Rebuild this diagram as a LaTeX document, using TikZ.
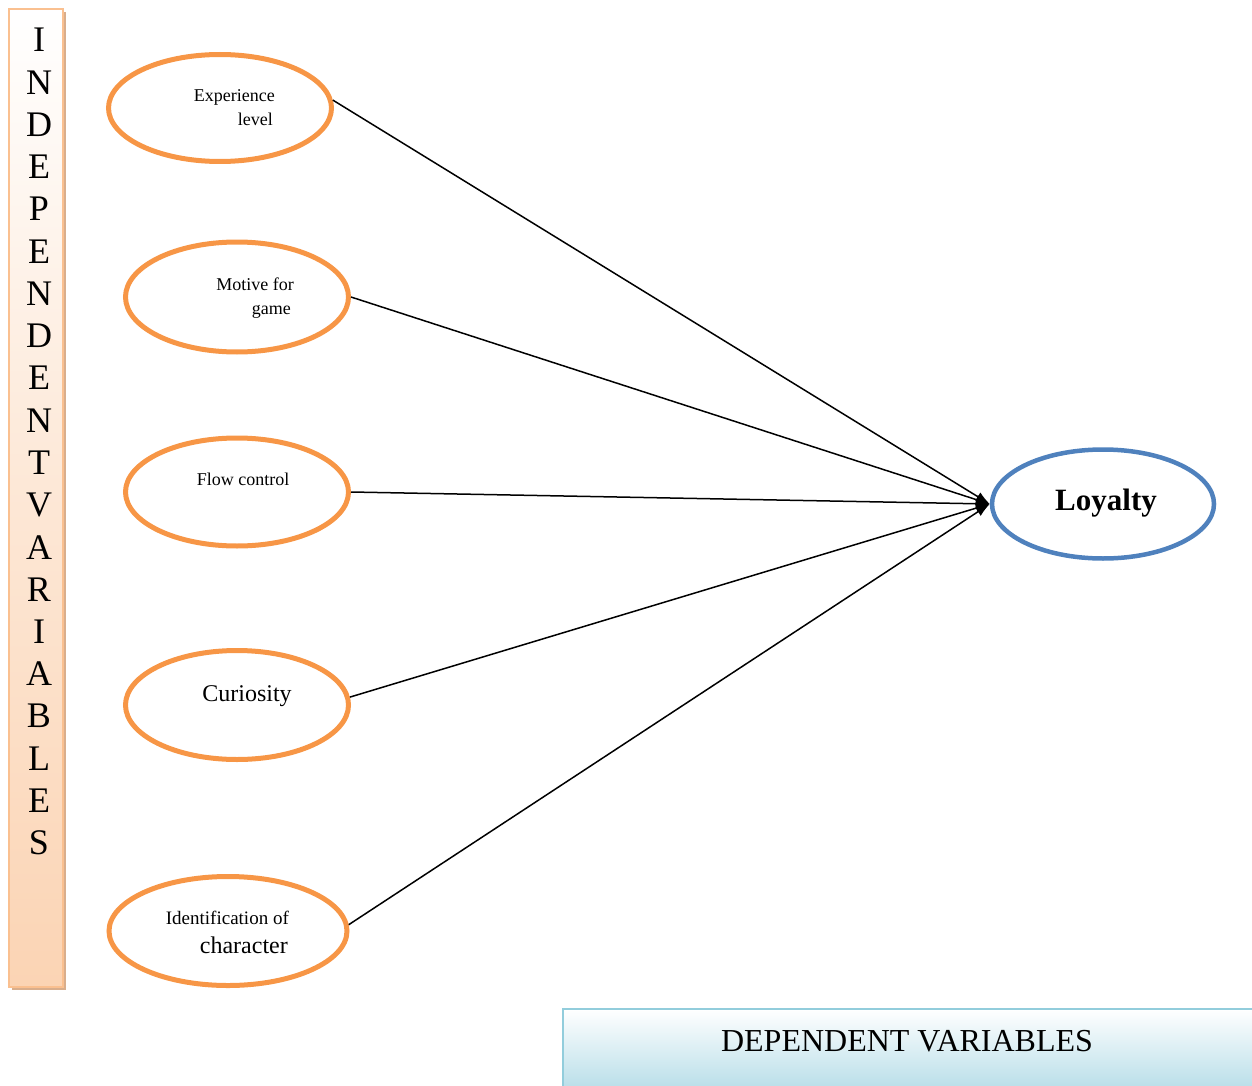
\documentclass[tikz,border=0pt]{standalone}
\usepackage{fontspec}
\setmainfont{Liberation Serif}
\usetikzlibrary{shapes.geometric,arrows.meta}
\definecolor{orng}{HTML}{F79646}
\definecolor{blu}{HTML}{4F81BD}
\definecolor{peach}{HTML}{FBD4B4}
\definecolor{peachline}{HTML}{FAC090}
\definecolor{peachshadow}{HTML}{D9AE8C}
\definecolor{lblue}{HTML}{B6DDE8}
\definecolor{lblueline}{HTML}{92CDDC}
\begin{document}
\begin{tikzpicture}[x=1pt,y=-1pt,
  indep/.style={ellipse, draw=orng, line width=5pt, inner sep=0pt},
  depnode/.style={ellipse, draw=blu, line width=4.5pt, inner sep=0pt},
  small/.style={font=\fontsize{18}{22}\selectfont, inner sep=0pt},
  big/.style={font=\fontsize{24}{28}\selectfont, inner sep=0pt},
  vlet/.style={font=\fontsize{36}{40}\selectfont, inner sep=0pt},
  link/.style={line width=1.5pt, -{Latex[length=14pt,width=10pt]}}]
\useasboundingbox (0,0) rectangle (1252,1086);

% left bar
\fill[peachshadow] (12,12) rectangle (66,990);
\shade[top color=white, bottom color=peach, middle color=peach!55] (9,9) rectangle (63,987);
\draw[peachline, line width=2pt] (9,9) rectangle (63,987);
\foreach \l [count=\i] in {I,N,D,E,P,E,N,D,E,N,T,V,A,R,I,A,B,L,E,S}
  \node[vlet] (v\i) at (39,{40+(\i-1)*42.26}) {\l};

% bottom box
\shade[top color=white, bottom color=lblue] (563,1009) rectangle (1258,1092);
\draw[lblueline, line width=2pt] (563,1009) rectangle (1258,1092);
\node[font=\fontsize{32}{36}\selectfont, inner sep=0pt] (dv) at (907,1041) {DEPENDENT VARIABLES};

% ellipses
\node[indep, minimum width=223pt, minimum height=107pt] (e1) at (220,108) {};
\node[indep, minimum width=223pt, minimum height=110pt] (e2) at (237,297) {};
\node[indep, minimum width=223pt, minimum height=108pt] (e3) at (237,492) {};
\node[indep, minimum width=223pt, minimum height=109pt] (e4) at (237,705) {};
\node[indep, minimum width=238pt, minimum height=109pt] (e5) at (228,931) {};
\node[depnode, minimum width=222pt, minimum height=109pt] (loy) at (1103,504) {};

% texts
\node[small, anchor=base east] (t1a) at (275,102) {Experience};
\node[small, anchor=base east] (t1b) at (273,126) {level};
\node[small, anchor=base east] (t2a) at (294,290) {Motive for};
\node[small, anchor=base east] (t2b) at (291,314) {game};
\node[small, anchor=base] (t3) at (243,485) {Flow control};
\node[big, anchor=base] (t4) at (247,701) {Curiosity};
\node[font=\fontsize{19}{22}\selectfont, inner sep=0pt, anchor=base east] (t5a) at (289,924) {Identification of};
\node[big, anchor=base east] (t5b) at (288,953) {character};
\node[font=\bfseries\fontsize{31}{36}\selectfont, inner sep=0pt, anchor=base] (t6) at (1106,510) {Loyalty};

% connectors
\draw[link] (e1.4) -- (loy.west);
\draw[link] (e2.east) -- (loy.west);
\draw[link] (e3.east) -- (loy.west);
\draw[link] (e4.4) -- (loy.west);
\draw[link] (e5.3) -- (loy.west);
\end{tikzpicture}
\end{document}
